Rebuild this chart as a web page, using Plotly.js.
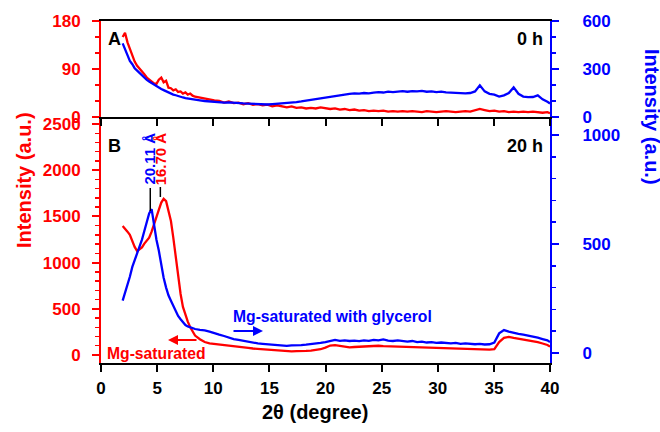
<!DOCTYPE html>
<html>
<head>
<meta charset="utf-8">
<script src="https://cdn.plot.ly/plotly-3.0.1.min.js"></script>
<style>
  html, body { margin: 0; padding: 0; background: #ffffff; }
  #chart { width: 660px; height: 432px; }
</style>
</head>
<body>
<div id="chart"></div>
<script>
// 2θ sampling positions (degrees)
const twoTheta = [
  1.93, 2.14, 2.36, 2.57, 2.79, 3.00, 3.22, 3.43, 3.65, 3.86,
  4.08, 4.29, 4.51, 4.72, 4.94, 5.15, 5.37, 5.58, 5.80, 6.01,
  6.23, 6.44, 6.66, 6.87, 7.09, 7.30, 7.52, 7.73, 7.95, 8.16,
  8.38,
  8.81, 9.24, 9.67, 10.10, 10.53, 10.96, 11.39, 11.82, 12.25, 12.68,
  13.11, 13.54, 13.97, 14.40, 14.83, 15.26, 15.69, 16.12, 16.55, 16.98,
  17.41, 17.84, 18.27, 18.70, 19.13, 19.56, 19.99, 20.42, 20.85, 21.28,
  21.71, 22.14, 22.57, 23.00, 23.43, 23.86, 24.29, 24.72, 25.15, 25.58,
  26.01, 26.44, 26.87, 27.30, 27.73, 28.16, 28.59, 29.02, 29.45, 29.88,
  30.31, 30.74, 31.17, 31.60, 32.03, 32.46, 32.89, 33.32, 33.75, 34.18,
  34.61, 35.04, 35.47, 35.90, 36.33, 36.76, 37.19, 37.62, 38.05, 38.48,
  38.91, 39.34, 39.77, 40.00
];

// 0 h scans
const mg0h = [   // Mg-saturated (left axis)
  150, 158, 140, 128, 112, 104, 96, 90, 86, 80,
  74, 70, 66, 63, 62, 70, 74, 65, 68, 55,
  54, 50, 52, 47, 48, 44, 46, 42, 44, 40,
  38,
  36, 35, 32, 31, 30, 27, 29, 26, 27, 24,
  26, 23, 24, 22, 23, 20, 22, 20, 18, 20,
  17, 18, 16, 17, 16, 18, 16, 15, 16, 14,
  15, 13, 14, 12, 13, 11, 12, 11, 12, 10,
  11, 10, 11, 10, 11, 10, 9, 11, 10, 9,
  10, 11, 10, 9, 10, 11, 10, 12, 15, 13,
  11, 12, 10, 11, 9, 10, 9, 10, 9, 10,
  9, 8, 9, 7
];
const gly0h = [  // Mg-saturated with glycerol (right axis)
  460, 420, 385, 350, 330, 305, 290, 275, 262, 245,
  232, 222, 212, 200, 190, 182, 175, 168, 160, 155,
  148, 140, 136, 130, 126, 122, 118, 115, 112, 110,
  106,
  104, 100, 97, 94, 93, 90, 91, 88, 87, 85,
  84, 82, 80, 79, 78, 80, 82, 84, 88, 90,
  93, 97, 102, 108, 114, 118, 122, 126, 134, 138,
  142, 145, 148, 146, 150, 148, 152, 155, 153, 158,
  156, 160, 162, 158, 162, 160, 163, 158, 160, 156,
  158, 154, 152, 154, 150, 148, 150, 160, 198, 160,
  145, 140, 128, 135, 150, 185, 145, 128, 124, 125,
  135, 110, 95, 85
];

// 20 h scans
const mg20h = [  // Mg-saturated (left axis)
  1395, 1370, 1335, 1300, 1225, 1170, 1125, 1150, 1165, 1205,
  1235, 1270, 1335, 1405, 1480, 1570, 1650, 1690, 1665, 1560,
  1450, 1270, 1050, 840, 660, 520, 430, 360, 300, 250,
  210,
  170, 140, 125, 118, 110, 106, 98, 94, 88, 82,
  76, 70, 66, 58, 54, 48, 46, 42, 40, 38,
  42, 40, 44, 48, 52, 62, 80, 102, 106, 96,
  88, 82, 86, 90, 88, 94, 96, 100, 96, 94,
  98, 92, 90, 86, 88, 84, 80, 82, 76, 74,
  78, 72, 70, 72, 68, 70, 66, 64, 62, 60,
  58, 64, 140, 185, 196, 184, 176, 168, 160, 150,
  138, 124, 108, 90
];
const gly20h = [ // Mg-saturated with glycerol (right axis)
  240, 275, 320, 350, 395, 425, 460, 485, 520, 560,
  600, 640, 660, 590, 520, 470, 405, 345, 300, 265,
  240, 215, 190, 170, 155, 140, 128, 122, 118, 112,
  110,
  106, 104, 98, 90, 84, 78, 70, 64, 60, 56,
  50, 47, 44, 42, 40, 38, 36, 34, 33, 35,
  34, 36, 38, 40, 42, 46, 50, 56, 60, 56,
  58, 55, 57, 54, 58, 56, 60, 58, 62, 57,
  55, 58, 54, 52, 55, 50, 52, 48, 50, 46,
  48, 45, 44, 46, 42, 44, 41, 40, 42, 39,
  40, 48, 90, 105, 98, 92, 88, 84, 80, 76,
  70, 64, 58, 50
];

// Basal spacings (Å) and Cu Kα wavelength (Å)
const dGlycerol = 20.11;
const dMg = 16.70;
const lambdaCuKa = 1.5406;

const xTickVals = [0, 5, 10, 15, 20, 25, 30, 35, 40];

// Bragg's law: 2θ (deg) for a given d-spacing
function braggTwoTheta(d) {
  return 2 * Math.asin(lambdaCuKa / (2 * d)) * 180 / Math.PI;
}
const peakGly = braggTwoTheta(dGlycerol);
const peakMg = braggTwoTheta(dMg);

const RED = '#ff0000';
const BLUE = '#0000ff';
const FONT = 'Liberation Sans, Arial, sans-serif';

// plot-area pixel frame, used to place the free text
const FR = { l: 101, r: 550, t: 21, b: 363 };
const px = v => (v - FR.l) / (FR.r - FR.l);
const py = v => (FR.b - v) / (FR.b - FR.t);
const splitY = py(117);

const traces = [
  { x: twoTheta, y: mg20h, xaxis: 'x', yaxis: 'y', type: 'scatter', mode: 'lines',
    line: { color: RED, width: 2.3 }, name: 'Mg-saturated 20 h' },
  { x: twoTheta, y: gly20h, xaxis: 'x', yaxis: 'y2', type: 'scatter', mode: 'lines',
    line: { color: BLUE, width: 2.3 }, name: 'Mg-saturated with glycerol 20 h' },
  { x: twoTheta, y: mg0h, xaxis: 'x2', yaxis: 'y3', type: 'scatter', mode: 'lines',
    line: { color: RED, width: 2.3 }, name: 'Mg-saturated 0 h' },
  { x: twoTheta, y: gly0h, xaxis: 'x2', yaxis: 'y4', type: 'scatter', mode: 'lines',
    line: { color: BLUE, width: 2.3 }, name: 'Mg-saturated with glycerol 0 h' }
];

const tickFont = c => ({ family: FONT, size: 17, color: c, weight: 'bold' });

function yAxis(color, standoff, extra) {
  return Object.assign({
    showline: true, linecolor: color, linewidth: 2,
    ticks: 'outside', ticklen: 7, tickwidth: 2, tickcolor: color,
    tickfont: tickFont(color), ticklabelstandoff: standoff,
    showgrid: false, zeroline: false, fixedrange: true
  }, extra);
}

const layout = {
  width: 660, height: 432,
  margin: { l: FR.l, r: 660 - FR.r, t: FR.t, b: 432 - FR.b, pad: 0 },
  paper_bgcolor: '#ffffff', plot_bgcolor: '#ffffff',
  showlegend: false,
  font: { family: FONT, weight: 'bold' },
  xaxis: {
    domain: [0, 1], anchor: 'y', range: [0, 40], tickvals: xTickVals,
    showline: true, linecolor: '#000000', linewidth: 2,
    ticks: 'outside', ticklen: 7, tickwidth: 2, tickcolor: '#000000',
    tickfont: tickFont('#000000'), ticklabelstandoff: 2,
    showgrid: false, zeroline: false
  },
  xaxis2: {
    domain: [0, 1], anchor: 'y3', range: [0, 40], tickvals: xTickVals,
    showline: true, mirror: true, linecolor: '#000000', linewidth: 2,
    ticks: 'outside', ticklen: 7, tickwidth: 2, tickcolor: '#000000',
    showticklabels: false, showgrid: false, zeroline: false
  },
  yaxis: yAxis(RED, 8, {
    domain: [0, splitY], anchor: 'x', range: [-87, 2576],
    tick0: 0, dtick: 500,
    minor: { dtick: 100, ticks: 'outside', ticklen: 4, tickwidth: 1.5, tickcolor: RED }
  }),
  yaxis2: yAxis(BLUE, 20, {
    overlaying: 'y', side: 'right', anchor: 'x', range: [-46, 1083],
    tick0: 0, dtick: 500,
    minor: { dtick: 100, ticks: 'outside', ticklen: 4, tickwidth: 1.5, tickcolor: BLUE }
  }),
  yaxis3: yAxis(RED, 8, {
    domain: [splitY, 1], anchor: 'x2', range: [0, 180],
    tick0: 0, dtick: 90,
    minor: { dtick: 30, ticks: 'outside', ticklen: 4, tickwidth: 1.5, tickcolor: RED }
  }),
  yaxis4: yAxis(BLUE, 20, {
    overlaying: 'y3', side: 'right', anchor: 'x2', range: [0, 600],
    tick0: 0, dtick: 300,
    minor: { dtick: 100, ticks: 'outside', ticklen: 4, tickwidth: 1.5, tickcolor: BLUE }
  }),
  shapes: [
    // markers above the first basal reflections
    { type: 'line', xref: 'x', yref: 'paper', x0: peakGly, x1: peakGly,
      y0: py(211), y1: py(188), line: { color: '#000000', width: 1.5 } },
    { type: 'line', xref: 'x', yref: 'paper', x0: peakMg, x1: peakMg,
      y0: py(197), y1: py(187), line: { color: '#000000', width: 1.5 } }
  ],
  annotations: [
    { text: 'A', xref: 'paper', yref: 'paper', x: px(106), y: py(39),
      xanchor: 'left', yanchor: 'middle', showarrow: false,
      font: { family: FONT, size: 18, color: '#000000', weight: 'bold' } },
    { text: 'B', xref: 'paper', yref: 'paper', x: px(106), y: py(146),
      xanchor: 'left', yanchor: 'middle', showarrow: false,
      font: { family: FONT, size: 18, color: '#000000', weight: 'bold' } },
    { text: '0 h', xref: 'paper', yref: 'paper', x: px(545), y: py(39),
      xanchor: 'right', yanchor: 'middle', showarrow: false,
      font: { family: FONT, size: 18, color: '#000000', weight: 'bold' } },
    { text: '20 h', xref: 'paper', yref: 'paper', x: px(545), y: py(146),
      xanchor: 'right', yanchor: 'middle', showarrow: false,
      font: { family: FONT, size: 18, color: '#000000', weight: 'bold' } },
    { text: dGlycerol.toFixed(2) + ' Å', xref: 'x', yref: 'paper', x: peakGly - 0.15, y: py(159),
      xanchor: 'center', yanchor: 'middle', textangle: -90, showarrow: false,
      font: { family: FONT, size: 15, color: BLUE, weight: 'bold' } },
    { text: dMg.toFixed(2) + ' Å', xref: 'x', yref: 'paper', x: peakMg, y: py(159),
      xanchor: 'center', yanchor: 'middle', textangle: -90, showarrow: false,
      font: { family: FONT, size: 15, color: RED, weight: 'bold' } },
    { text: 'Mg-saturated', xref: 'paper', yref: 'paper', x: px(105), y: py(353),
      xanchor: 'left', yanchor: 'middle', showarrow: false,
      font: { family: FONT, size: 15.7, color: RED, weight: 'bold' } },
    { text: '', xref: 'paper', yref: 'paper', x: px(168), y: py(340),
      axref: 'pixel', ayref: 'pixel', ax: 30, ay: 0, showarrow: true,
      arrowhead: 2, arrowsize: 1, arrowwidth: 2, arrowcolor: RED },
    { text: 'Mg-saturated with glycerol', xref: 'paper', yref: 'paper', x: px(231), y: py(316),
      xanchor: 'left', yanchor: 'middle', showarrow: false,
      font: { family: FONT, size: 15.7, color: BLUE, weight: 'bold' } },
    { text: '', xref: 'paper', yref: 'paper', x: px(263), y: py(331),
      axref: 'pixel', ayref: 'pixel', ax: -31, ay: 0, showarrow: true,
      arrowhead: 2, arrowsize: 1, arrowwidth: 2, arrowcolor: BLUE },
    { text: 'Intensity (a.u.)', xref: 'paper', yref: 'paper', x: px(24), y: py(180),
      xanchor: 'center', yanchor: 'middle', textangle: -90, showarrow: false,
      font: { family: FONT, size: 20, color: RED, weight: 'bold' } },
    { text: 'Intensity (a.u.)', xref: 'paper', yref: 'paper', x: px(652), y: py(117),
      xanchor: 'center', yanchor: 'middle', textangle: 90, showarrow: false,
      font: { family: FONT, size: 20, color: BLUE, weight: 'bold' } },
    { text: '2θ (degree)', xref: 'paper', yref: 'paper', x: px(315), y: py(412),
      xanchor: 'center', yanchor: 'middle', showarrow: false,
      font: { family: FONT, size: 20, color: '#000000', weight: 'bold' } }
  ]
};

Plotly.newPlot('chart', traces, layout, { staticPlot: true, displayModeBar: false });
</script>
</body>
</html>
